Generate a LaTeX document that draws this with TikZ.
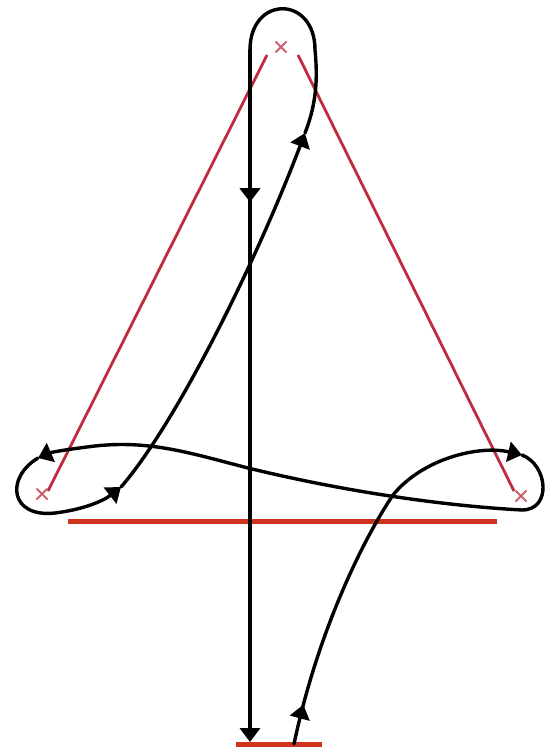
\documentclass[tikz,border=0pt]{standalone}
\usetikzlibrary{arrows.meta,decorations.markings}
\definecolor{legred}{HTML}{BE2C3E}
\definecolor{barred}{HTML}{D0321E}
\tikzset{
  leg/.style={legred, line width=2.8pt},
  bar/.style={barred, line width=5pt},
  wire/.style={black, line width=3.4pt, line cap=round},
  xmark/.style={legred!75, line width=1.8pt},
  tipmark/.style={postaction={decorate}, decoration={markings, mark=at position #1 with {\arrow{Triangle[length=14pt,width=20pt]}}}},
  tipend/.style={-{Triangle[length=14pt,width=20pt]}}
}
\begin{document}
\begin{tikzpicture}[x=1pt,y=-1pt]
\useasboundingbox[fill=white] (0,0) rectangle (547,754);

% triangle corners
\coordinate (xt) at (281,47);
\coordinate (xl) at (42,494);
\coordinate (xr) at (521,496);
\coordinate (lt) at (267,55);
\coordinate (lb) at (48,491);
\coordinate (rt) at (298,55);
\coordinate (rb) at (514,491);
\coordinate (b1a) at (68,521);
\coordinate (b1b) at (497,521);
\coordinate (b2a) at (236,744);
\coordinate (b2b) at (322,744);

\draw[leg] (lt) -- (lb);
\draw[leg] (rt) -- (rb);
\draw[bar] (b1a) -- (b1b);
\draw[bar] (b2a) -- (b2b);
\foreach \p in {xt,xl,xr}{
  \draw[xmark] ([shift={(-5.5,-5.5)}]\p) -- ([shift={(5.5,5.5)}]\p);
  \draw[xmark] ([shift={(-5.5,5.5)}]\p) -- ([shift={(5.5,-5.5)}]\p);
}

% wire points
\coordinate (s) at (294,744);
\coordinate (r1) at (393,495);
\coordinate (r2) at (522,455);
\coordinate (r3) at (522,510);
\coordinate (c) at (248,468);
\coordinate (l1) at (38,458);
\coordinate (l2) at (121,487);
\coordinate (d1) at (305,133);
\coordinate (t1) at (315,50);
\coordinate (t2) at (250,50);
\coordinate (v) at (250,742);

\draw[wire, tipmark=0.15] (s) .. controls (318,630) and (364,538) .. (r1);
\draw[wire, tipend] (r1) .. controls (423,458) and (480,445) .. (r2);
\draw[wire] (r2) .. controls (548,465) and (552,510) .. (r3);
\draw[wire, tipend] (r3) .. controls (430,505) and (330,488) .. (c)
  .. controls (190,453) and (150,440) .. (95,446)
  .. controls (70,449) and (52,452) .. (l1);
\draw[wire, tipend] (l1) .. controls (5,478) and (10,518) .. (55,513)
  .. controls (80,510) and (102,502) .. (l2);
\draw[wire, tipend] (l2) .. controls (175,425) and (255,265) .. (d1);
\draw[wire] (d1) .. controls (316,105) and (318,80) .. (t1)
  .. controls (315,-5) and (250,-5) .. (t2);
\draw[wire, tipmark=0.22, tipend] (t2) -- (v);
\end{tikzpicture}
\end{document}
